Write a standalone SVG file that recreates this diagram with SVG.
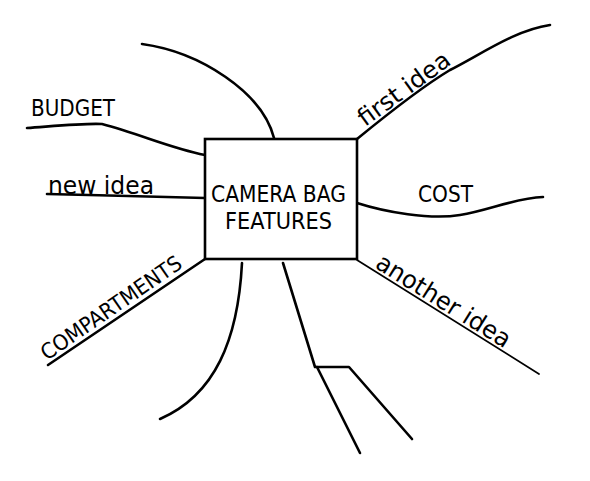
<svg xmlns="http://www.w3.org/2000/svg" width="590" height="481" viewBox="0 0 590 481">
<style>
.ln{fill:none;stroke:#000;stroke-width:2.6;stroke-linecap:round;stroke-linejoin:round}
.thin{stroke-width:1.7}
.t{font-family:"DejaVu Sans","Liberation Sans",sans-serif;fill:#000}
</style>
<rect width="590" height="481" fill="#fff"/>
<g id="connectors">
<path class="ln" d="M142,44 C200,52 262,92 274,138"/>
<path class="ln" d="M27,128 C55,126 85,123 102,124 C140,134 170,148 205,155"/>
<path class="ln" d="M47,194 C100,195 160,197 205,198"/>
<path class="ln" d="M205,259 L48,365"/>
<path class="ln" d="M242,263 C238,340 215,395 160,419"/>
<path class="ln" d="M283,263 L315,367 L349,367 L412,439"/>
<path class="ln" d="M317,367 L360,453"/>
<path class="ln thin" d="M357,260 L539,374"/>
<path class="ln" d="M357,203 C385,212 430,220 460,215 C490,210 515,198 543,197"/>
<path class="ln" d="M357,139 C390,112 425,85 450,70 C480,55 515,30 550,25"/>
</g>
<g id="center">
<rect x="205" y="139" width="152" height="120" fill="#fff" stroke="#000" stroke-width="2.6"/>
<text class="t" x="278.5" y="201.7" font-size="22.5" text-anchor="middle" textLength="135" lengthAdjust="spacingAndGlyphs">CAMERA BAG</text>
<text class="t" x="278.5" y="229.3" font-size="22.5" text-anchor="middle" textLength="107" lengthAdjust="spacingAndGlyphs">FEATURES</text>
</g>
<g id="budget">
<text class="t" x="31" y="116" font-size="22.5" textLength="84" lengthAdjust="spacingAndGlyphs">BUDGET</text>
</g>
<g id="new-idea">
<text class="t" x="48" y="194" font-size="24" textLength="106" lengthAdjust="spacingAndGlyphs">new idea</text>
</g>
<g id="compartments">
<text class="t" transform="translate(47,361) rotate(-34.6)" font-size="21.5" textLength="166" lengthAdjust="spacingAndGlyphs">COMPARTMENTS</text>
</g>
<g id="first-idea">
<text class="t" transform="translate(365,127) rotate(-36)" font-size="24" textLength="108" lengthAdjust="spacingAndGlyphs">first idea</text>
</g>
<g id="cost">
<text class="t" x="418" y="201.7" font-size="22.5" textLength="55" lengthAdjust="spacingAndGlyphs">COST</text>
</g>
<g id="another-idea">
<text class="t" transform="translate(374,267) rotate(32)" font-size="24.5" textLength="154" lengthAdjust="spacingAndGlyphs">another idea</text>
</g>
</svg>
